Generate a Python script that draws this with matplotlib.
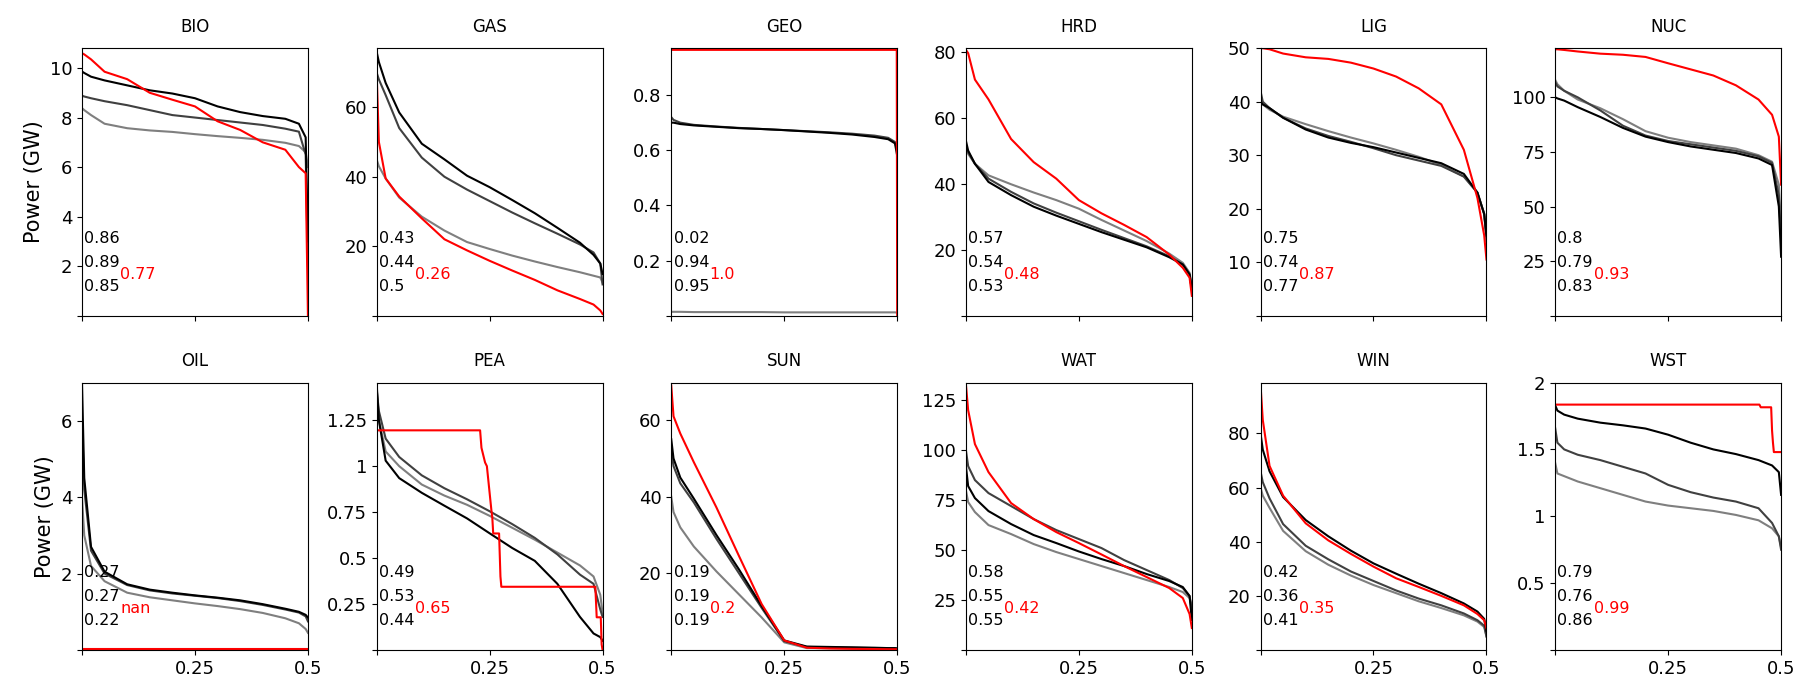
import numpy as np
import matplotlib
matplotlib.use("Agg")
import matplotlib.pyplot as plt
from matplotlib.ticker import FuncFormatter, MaxNLocator

# duration curves, sampled on a common x grid (fraction of time)
frac = [0, 0.005, 0.02, 0.05, 0.1, 0.15, 0.2, 0.25, 0.3, 0.35, 0.4, 0.45, 0.48, 0.495, 0.5]

techs = ["BIO", "GAS", "GEO", "HRD", "LIG", "NUC",
         "OIL", "PEA", "SUN", "WAT", "WIN", "WST"]

# upper y limit of each panel
ymax = [10.8, 77, 0.97, 81, 50, 122.5, 7.0, 1.455, 69.8, 133.8, 98.8, 2.0]

# scores printed in each panel: three grey runs, then red
scores_grey = [["0.86", "0.89", "0.85"], ["0.43", "0.44", "0.5"], ["0.02", "0.94", "0.95"],
               ["0.57", "0.54", "0.53"], ["0.75", "0.74", "0.77"], ["0.8", "0.79", "0.83"],
               ["0.27", "0.27", "0.22"], ["0.49", "0.53", "0.44"], ["0.19", "0.19", "0.19"],
               ["0.58", "0.55", "0.55"], ["0.42", "0.36", "0.41"], ["0.79", "0.76", "0.86"]]
scores_red = ["0.77", "0.26", "1.0", "0.48", "0.87", "0.93",
              "nan", "0.65", "0.2", "0.42", "0.35", "0.99"]

bio_light = [8.38, 8.3, 8.1, 7.75, 7.57, 7.48, 7.42, 7.33, 7.25, 7.18, 7.1, 6.98, 6.85, 6.6, 6.0]
bio_mid = [8.88, 8.85, 8.78, 8.66, 8.5, 8.3, 8.1, 8.0, 7.9, 7.8, 7.7, 7.55, 7.43, 6.5, 2.0]
bio_dark = [9.86, 9.8, 9.65, 9.5, 9.3, 9.1, 8.97, 8.78, 8.45, 8.22, 8.06, 7.95, 7.75, 7.2, 3.0]
bio_red = [10.6, 10.55, 10.35, 9.85, 9.55, 9.0, 8.72, 8.45, 7.85, 7.5, 7.0, 6.7, 6.0, 5.75, 0.0]

gas_light = [45, 43, 39.5, 34, 28.5, 24.5, 21.2, 19.2, 17.3, 15.6, 14, 12.5, 11.5, 11, 9.5]
gas_mid = [70, 68, 63.5, 54, 45.5, 40, 36.3, 33, 29.7, 26.6, 23.6, 20.5, 18.2, 15, 9]
gas_dark = [76, 73, 67, 58.5, 49.5, 45, 40.3, 37, 33.3, 29.5, 25.3, 21, 17.5, 15, 12]
gas_red = [70, 50, 39.5, 34.3, 28, 22, 18.8, 15.8, 13, 10.3, 7.3, 4.8, 3.2, 1.5, 0.5]

geo_light = [0.014, 0.014, 0.014, 0.013, 0.013, 0.013, 0.013, 0.012, 0.012, 0.012, 0.012, 0.012, 0.012, 0.012, 0.011]
geo_mid = [0.72, 0.71, 0.70, 0.692, 0.686, 0.681, 0.677, 0.673, 0.669, 0.665, 0.66, 0.653, 0.645, 0.63, 0.6]
geo_dark = [0.70, 0.70, 0.695, 0.69, 0.685, 0.68, 0.677, 0.673, 0.668, 0.663, 0.657, 0.648, 0.64, 0.625, 0.58]
geo_red_x = [0, 0.499, 0.5]
geo_red = [0.964, 0.964, 0.0]

hrd_light = [51, 49, 46, 42.5, 39.8, 37.3, 35, 32.4, 29, 25.8, 22.6, 18.8, 16, 13, 9]
hrd_mid = [51, 49.5, 46, 41.5, 37.5, 34, 31.2, 28.6, 26, 23.5, 21, 18, 15.5, 12.5, 8]
hrd_dark = [53, 50, 46, 40.5, 36.5, 33, 30.3, 27.8, 25.3, 23, 20.7, 17.7, 15.5, 12.5, 8]
hrd_red = [80.5, 79.5, 71.5, 65.5, 53.5, 46.5, 41.5, 35, 31, 27.5, 23.8, 18.5, 14.5, 11.5, 6]

lig_light = [40, 39.5, 38.5, 37.2, 35.8, 34.5, 33.3, 32.2, 31, 29.7, 28.2, 26, 23, 19, 15]
lig_mid = [42, 40, 38.8, 37, 35, 33.6, 32.5, 31.3, 30, 29, 28, 26, 23, 19, 14]
lig_dark = [40, 39.5, 38.8, 37, 34.8, 33.3, 32.3, 31.5, 30.5, 29.5, 28.5, 26.5, 23, 19, 15]
lig_red = [50, 50, 49.8, 49, 48.3, 48.0, 47.3, 46.2, 44.7, 42.5, 39.5, 31, 22, 15, 10.5]

nuc_light = [108, 106, 103, 99, 95, 90, 84.5, 81.5, 79.5, 78, 76.5, 73.5, 70.5, 60, 40]
nuc_mid = [107, 105, 103, 100, 94, 87, 82.5, 80, 78.5, 77, 75.5, 73, 70, 55, 35]
nuc_dark = [100, 99.5, 98.5, 95.5, 91, 86, 82, 79.5, 77.5, 76, 74.5, 72, 69, 50, 27]
nuc_red = [122, 122, 121.7, 121, 120, 119.5, 118.5, 115.6, 112.8, 110, 105.5, 99, 92, 82, 60]

oil_light = [4.0, 3.0, 2.2, 1.8, 1.5, 1.38, 1.3, 1.22, 1.15, 1.07, 0.97, 0.83, 0.7, 0.55, 0.45]
oil_mid = [6.0, 4.2, 2.6, 2.0, 1.7, 1.56, 1.48, 1.42, 1.36, 1.28, 1.18, 1.06, 0.98, 0.88, 0.75]
oil_dark = [7.0, 4.5, 2.7, 2.05, 1.72, 1.58, 1.5, 1.43, 1.37, 1.3, 1.2, 1.08, 1.0, 0.92, 0.85]
oil_red = [0.03] * 15

pea_light = [1.4, 1.25, 1.08, 1.0, 0.9, 0.84, 0.79, 0.73, 0.665, 0.6, 0.53, 0.46, 0.4, 0.3, 0.2]
pea_mid = [1.42, 1.3, 1.15, 1.05, 0.95, 0.88, 0.82, 0.755, 0.685, 0.61, 0.52, 0.41, 0.36, 0.22, 0.18]
pea_dark = [1.45, 1.25, 1.03, 0.935, 0.855, 0.785, 0.716, 0.635, 0.555, 0.485, 0.36, 0.18, 0.09, 0.07, 0.05]
pea_red_x = [0, 0.229, 0.232, 0.236, 0.24, 0.244, 0.254, 0.256, 0.258, 0.271, 0.274, 0.276,
             0.484, 0.487, 0.496, 0.498, 0.5]
pea_red = [1.195, 1.195, 1.1, 1.06, 1.02, 1.0, 0.76, 0.72, 0.634, 0.634, 0.4, 0.344,
           0.344, 0.178, 0.178, 0.03, 0.0]

sun_light = [40, 36, 32, 27, 20.5, 14.5, 8.5, 2.0, 0.5, 0.45, 0.4, 0.35, 0.3, 0.3, 0.3]
sun_mid = [52, 48, 43.5, 38.5, 29, 20, 11, 2.3, 0.8, 0.7, 0.6, 0.5, 0.45, 0.4, 0.4]
sun_dark = [55, 50, 45, 39.5, 30, 21, 11.5, 2.5, 0.9, 0.8, 0.7, 0.6, 0.5, 0.5, 0.4]
sun_red = [69, 61, 56.5, 49, 37.2, 24.5, 12, 2.5, 0.6, 0.4, 0.3, 0.25, 0.2, 0.2, 0.2]

wat_light = [80, 74, 69, 62.5, 58, 53, 49, 45.5, 42, 38.5, 35, 31.5, 29, 26, 22]
wat_mid = [100, 92, 85, 78.5, 72, 65.5, 60, 55.5, 51, 45, 40, 35, 31, 27, 20]
wat_dark = [92, 82, 76, 69.5, 63, 57.5, 53.5, 49.3, 45.5, 42, 38, 34.5, 31.5, 27, 15]
wat_red = [133, 120, 103, 89, 73.5, 65.5, 59, 53.5, 47.8, 42, 36.5, 31, 26, 18, 11]

win_light = [60, 57, 52.5, 44, 36.5, 31.5, 27.5, 24, 21, 18, 15.5, 12.8, 10.5, 8.5, 5]
win_mid = [66, 62, 56, 46.5, 38.5, 33.5, 29, 25.5, 22, 19, 16.5, 13.5, 11, 9, 5]
win_dark = [80, 74, 66, 56.5, 48, 42, 36.7, 32, 28.2, 24.5, 21, 17.2, 14.2, 11.5, 7]
win_red = [98, 85, 68, 57, 46.8, 40.5, 35.5, 30.8, 26.5, 23.3, 20, 16.5, 13.3, 11, 8]

wst_light = [1.4, 1.32, 1.3, 1.26, 1.21, 1.16, 1.11, 1.08, 1.06, 1.04, 1.01, 0.97, 0.91, 0.85, 0.77]
wst_mid = [1.66, 1.55, 1.5, 1.46, 1.42, 1.37, 1.32, 1.235, 1.18, 1.14, 1.11, 1.06, 0.95, 0.85, 0.75]
wst_dark = [1.83, 1.79, 1.76, 1.73, 1.7, 1.68, 1.656, 1.61, 1.55, 1.5, 1.465, 1.42, 1.38, 1.33, 1.16]
wst_red_x = [0, 0.452, 0.455, 0.478, 0.48, 0.482, 0.484, 0.5]
wst_red = [1.835, 1.835, 1.815, 1.815, 1.64, 1.55, 1.48, 1.48]

grey_runs = [
    [bio_light, bio_mid, bio_dark], [gas_light, gas_mid, gas_dark], [geo_light, geo_mid, geo_dark],
    [hrd_light, hrd_mid, hrd_dark], [lig_light, lig_mid, lig_dark], [nuc_light, nuc_mid, nuc_dark],
    [oil_light, oil_mid, oil_dark], [pea_light, pea_mid, pea_dark], [sun_light, sun_mid, sun_dark],
    [wat_light, wat_mid, wat_dark], [win_light, win_mid, win_dark], [wst_light, wst_mid, wst_dark],
]
red_runs = [(frac, bio_red), (frac, gas_red), (geo_red_x, geo_red), (frac, hrd_red),
            (frac, lig_red), (frac, nuc_red), (frac, oil_red), (pea_red_x, pea_red),
            (frac, sun_red), (frac, wat_red), (frac, win_red), (wst_red_x, wst_red)]

grey_colours = ["#7f7f7f", "#404040", "#000000"]

fig, axes = plt.subplots(2, 6, figsize=(17.98, 6.79), dpi=100, sharex=True)
fig.subplots_adjust(left=0.0456, right=0.9906, top=0.929, bottom=0.0427,
                    wspace=0.304, hspace=0.25)

fmt = FuncFormatter(lambda v, p: "" if v == 0 else f"{v:g}")

for i, ax in enumerate(axes.flat):
    for vals, col in zip(grey_runs[i], grey_colours):
        ax.plot(frac, vals, color=col, lw=1.5)
    rx, ry = red_runs[i]
    ax.plot(rx, ry, color="red", lw=1.5)

    ax.set_xlim(0, 0.5)
    ax.set_ylim(0, ymax[i])
    ax.set_xticks([0, 0.25, 0.5])
    ax.set_xticklabels(["", "0.25", "0.5"])
    ax.yaxis.set_major_locator(MaxNLocator(nbins=6, steps=[1, 2, 2.5, 5, 10]))
    ax.yaxis.set_major_formatter(fmt)
    ax.tick_params(labelsize=13)
    ax.set_title(techs[i], fontsize=12, pad=12)

    for s, yy in zip(scores_grey[i], [0.29, 0.2, 0.11]):
        ax.text(0.01, yy, s, transform=ax.transAxes, fontsize=11.5, va="center", ha="left")
    ax.text(0.17, 0.155, scores_red[i], transform=ax.transAxes, fontsize=11.5,
            va="center", ha="left", color="red")

    if i % 6 == 0:
        ax.set_ylabel("Power (GW)", fontsize=15)

fig.savefig("out.png", dpi=100)
